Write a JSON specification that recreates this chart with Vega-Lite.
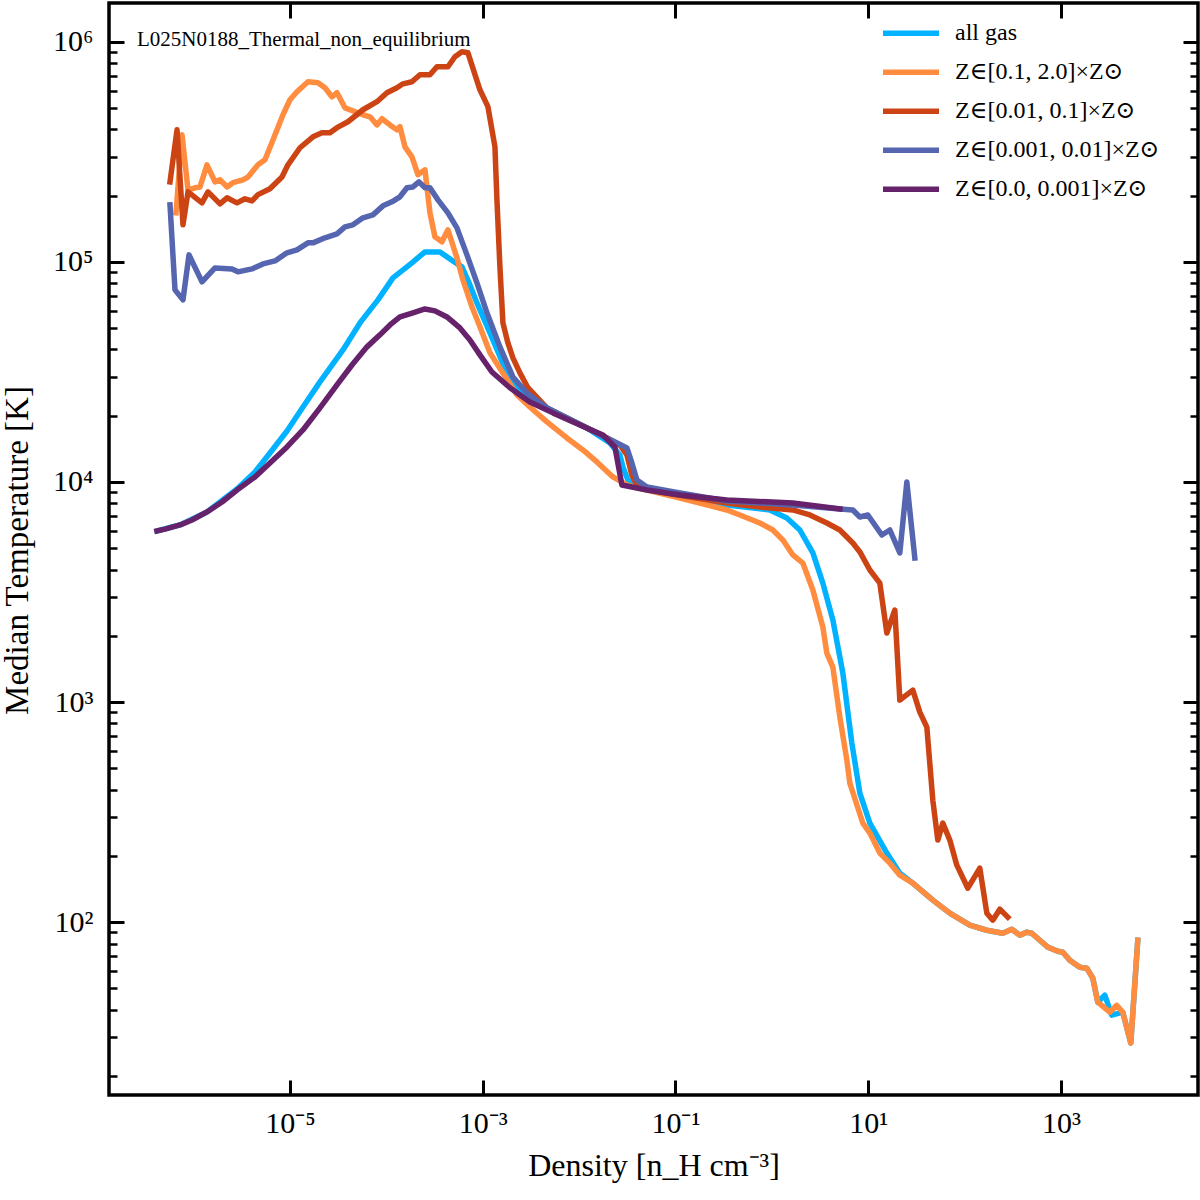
{
  "$schema": "https://vega.github.io/schema/vega-lite/v6.json",
  "width": 1089,
  "height": 1092,
  "autosize": "none",
  "padding": {"left": 109, "top": 3, "right": 2, "bottom": 105},
  "background": "white",
  "config": {
    "font": "Liberation Serif",
    "view": {"stroke": "black", "strokeWidth": 3.5}
  },
  "title": {
    "text": "L025N0188_Thermal_non_equilibrium",
    "anchor": "start",
    "frame": "group",
    "orient": "top",
    "offset": 0,
    "dx": 28,
    "dy": 65,
    "baseline": "alphabetic",
    "font": "Liberation Serif",
    "fontSize": 21,
    "fontWeight": "normal",
    "color": "black"
  },
  "datasets": {
    "curves": [
      {"series": "all gas", "density": 4.17e-7, "temperature": 5990},
      {"series": "all gas", "density": 7.23e-7, "temperature": 6380},
      {"series": "all gas", "density": 1.377e-6, "temperature": 7310},
      {"series": "all gas", "density": 2.82e-6, "temperature": 9290},
      {"series": "all gas", "density": 4.335e-6, "temperature": 11100},
      {"series": "all gas", "density": 6.2e-6, "temperature": 13550},
      {"series": "all gas", "density": 9.31e-6, "temperature": 17050},
      {"series": "all gas", "density": 1.364e-5, "temperature": 21900},
      {"series": "all gas", "density": 2.048e-5, "temperature": 28500},
      {"series": "all gas", "density": 3.547e-5, "temperature": 39800},
      {"series": "all gas", "density": 5.322e-5, "temperature": 52800},
      {"series": "all gas", "density": 8.18e-5, "temperature": 67200},
      {"series": "all gas", "density": 1.171e-4, "temperature": 84600},
      {"series": "all gas", "density": 1.843e-4, "temperature": 99000},
      {"series": "all gas", "density": 2.515e-4, "temperature": 111000},
      {"series": "all gas", "density": 3.597e-4, "temperature": 111000},
      {"series": "all gas", "density": 4.909e-4, "temperature": 101000},
      {"series": "all gas", "density": 6.084e-4, "temperature": 94900},
      {"series": "all gas", "density": 7.365e-4, "temperature": 78600},
      {"series": "all gas", "density": 8.705e-4, "temperature": 65100},
      {"series": "all gas", "density": 1.188e-3, "temperature": 47600},
      {"series": "all gas", "density": 1.782e-3, "temperature": 31300},
      {"series": "all gas", "density": 2.612e-3, "temperature": 25400},
      {"series": "all gas", "density": 4.634e-3, "temperature": 21700},
      {"series": "all gas", "density": 7.47e-3, "temperature": 19540},
      {"series": "all gas", "density": 1.205e-2, "temperature": 17600},
      {"series": "all gas", "density": 2.087e-2, "temperature": 15040},
      {"series": "all gas", "density": 2.65e-2, "temperature": 13270},
      {"series": "all gas", "density": 2.848e-2, "temperature": 11700},
      {"series": "all gas", "density": 3.208e-2, "temperature": 10210},
      {"series": "all gas", "density": 3.978e-2, "temperature": 9690},
      {"series": "all gas", "density": 6.89e-2, "temperature": 9010},
      {"series": "all gas", "density": 0.3414, "temperature": 7860},
      {"series": "all gas", "density": 0.9535, "temperature": 7460},
      {"series": "all gas", "density": 1.431, "temperature": 6860},
      {"series": "all gas", "density": 1.952, "temperature": 6050},
      {"series": "all gas", "density": 2.663, "temperature": 4760},
      {"series": "all gas", "density": 3.381, "temperature": 3470},
      {"series": "all gas", "density": 4.294, "temperature": 2360},
      {"series": "all gas", "density": 5.451, "temperature": 1355},
      {"series": "all gas", "density": 6.76, "temperature": 651},
      {"series": "all gas", "density": 8.184, "temperature": 386},
      {"series": "all gas", "density": 10.39, "temperature": 282},
      {"series": "all gas", "density": 15.6, "temperature": 206},
      {"series": "all gas", "density": 21.27, "temperature": 167},
      {"series": "all gas", "density": 29.01, "temperature": 150.4},
      {"series": "all gas", "density": 46.79, "temperature": 125.9},
      {"series": "all gas", "density": 70.23, "temperature": 109.9},
      {"series": "all gas", "density": 113.2, "temperature": 96.9},
      {"series": "all gas", "density": 170, "temperature": 91.9},
      {"series": "all gas", "density": 249, "temperature": 89.1},
      {"series": "all gas", "density": 308.7, "temperature": 92.9},
      {"series": "all gas", "density": 373.8, "temperature": 87.3},
      {"series": "all gas", "density": 441.9, "temperature": 90.1},
      {"series": "all gas", "density": 498.1, "temperature": 89.1},
      {"series": "all gas", "density": 602.8, "temperature": 82.8},
      {"series": "all gas", "density": 729.6, "temperature": 77.0},
      {"series": "all gas", "density": 926.4, "temperature": 73.8},
      {"series": "all gas", "density": 1044, "temperature": 73.0},
      {"series": "all gas", "density": 1234, "temperature": 67.2},
      {"series": "all gas", "density": 1567, "temperature": 62.4},
      {"series": "all gas", "density": 1852, "temperature": 61.8},
      {"series": "all gas", "density": 2138, "temperature": 55.7},
      {"series": "all gas", "density": 2408, "temperature": 43.3},
      {"series": "all gas", "density": 2847, "temperature": 46.6},
      {"series": "all gas", "density": 3365, "temperature": 37.8},
      {"series": "all gas", "density": 4377, "temperature": 39.0},
      {"series": "all gas", "density": 5298, "temperature": 28.2},
      {"series": "all gas", "density": 6261, "temperature": 82.8},

      {"series": "Z∈[0.1, 2.0]×Z⊙", "density": 6.57e-7, "temperature": 167000},
      {"series": "Z∈[0.1, 2.0]×Z⊙", "density": 7.58e-7, "temperature": 378000},
      {"series": "Z∈[0.1, 2.0]×Z⊙", "density": 8.75e-7, "temperature": 212000},
      {"series": "Z∈[0.1, 2.0]×Z⊙", "density": 1.034e-6, "temperature": 217000},
      {"series": "Z∈[0.1, 2.0]×Z⊙", "density": 1.165e-6, "temperature": 219000},
      {"series": "Z∈[0.1, 2.0]×Z⊙", "density": 1.377e-6, "temperature": 276000},
      {"series": "Z∈[0.1, 2.0]×Z⊙", "density": 1.667e-6, "temperature": 231000},
      {"series": "Z∈[0.1, 2.0]×Z⊙", "density": 1.879e-6, "temperature": 236000},
      {"series": "Z∈[0.1, 2.0]×Z⊙", "density": 2.221e-6, "temperature": 219000},
      {"series": "Z∈[0.1, 2.0]×Z⊙", "density": 2.563e-6, "temperature": 229000},
      {"series": "Z∈[0.1, 2.0]×Z⊙", "density": 3.254e-6, "temperature": 236000},
      {"series": "Z∈[0.1, 2.0]×Z⊙", "density": 3.667e-6, "temperature": 243000},
      {"series": "Z∈[0.1, 2.0]×Z⊙", "density": 4.656e-6, "temperature": 276000},
      {"series": "Z∈[0.1, 2.0]×Z⊙", "density": 5.504e-6, "temperature": 291000},
      {"series": "Z∈[0.1, 2.0]×Z⊙", "density": 6.66e-6, "temperature": 358000},
      {"series": "Z∈[0.1, 2.0]×Z⊙", "density": 8.46e-6, "temperature": 466000},
      {"series": "Z∈[0.1, 2.0]×Z⊙", "density": 1.0e-5, "temperature": 545000},
      {"series": "Z∈[0.1, 2.0]×Z⊙", "density": 1.182e-5, "temperature": 593000},
      {"series": "Z∈[0.1, 2.0]×Z⊙", "density": 1.537e-5, "temperature": 658000},
      {"series": "Z∈[0.1, 2.0]×Z⊙", "density": 1.952e-5, "temperature": 651000},
      {"series": "Z∈[0.1, 2.0]×Z⊙", "density": 2.307e-5, "temperature": 618000},
      {"series": "Z∈[0.1, 2.0]×Z⊙", "density": 2.727e-5, "temperature": 562000},
      {"series": "Z∈[0.1, 2.0]×Z⊙", "density": 3.073e-5, "temperature": 587000},
      {"series": "Z∈[0.1, 2.0]×Z⊙", "density": 3.72e-5, "temperature": 501000},
      {"series": "Z∈[0.1, 2.0]×Z⊙", "density": 5.719e-5, "temperature": 466000},
      {"series": "Z∈[0.1, 2.0]×Z⊙", "density": 6.76e-5, "temperature": 456000},
      {"series": "Z∈[0.1, 2.0]×Z⊙", "density": 7.99e-5, "temperature": 419000},
      {"series": "Z∈[0.1, 2.0]×Z⊙", "density": 9.0e-5, "temperature": 447000},
      {"series": "Z∈[0.1, 2.0]×Z⊙", "density": 1.09e-4, "temperature": 419000},
      {"series": "Z∈[0.1, 2.0]×Z⊙", "density": 1.288e-4, "temperature": 398000},
      {"series": "Z∈[0.1, 2.0]×Z⊙", "density": 1.384e-4, "temperature": 411000},
      {"series": "Z∈[0.1, 2.0]×Z⊙", "density": 1.56e-4, "temperature": 333000},
      {"series": "Z∈[0.1, 2.0]×Z⊙", "density": 1.843e-4, "temperature": 300000},
      {"series": "Z∈[0.1, 2.0]×Z⊙", "density": 2.127e-4, "temperature": 249000},
      {"series": "Z∈[0.1, 2.0]×Z⊙", "density": 2.515e-4, "temperature": 262000},
      {"series": "Z∈[0.1, 2.0]×Z⊙", "density": 2.834e-4, "temperature": 167000},
      {"series": "Z∈[0.1, 2.0]×Z⊙", "density": 3.192e-4, "temperature": 129900},
      {"series": "Z∈[0.1, 2.0]×Z⊙", "density": 3.775e-4, "temperature": 123300},
      {"series": "Z∈[0.1, 2.0]×Z⊙", "density": 4.355e-4, "temperature": 139800},
      {"series": "Z∈[0.1, 2.0]×Z⊙", "density": 5.4e-4, "temperature": 104300},
      {"series": "Z∈[0.1, 2.0]×Z⊙", "density": 6.232e-4, "temperature": 82800},
      {"series": "Z∈[0.1, 2.0]×Z⊙", "density": 7.727e-4, "temperature": 62500},
      {"series": "Z∈[0.1, 2.0]×Z⊙", "density": 9.35e-4, "temperature": 50700},
      {"series": "Z∈[0.1, 2.0]×Z⊙", "density": 1.188e-3, "temperature": 38600},
      {"series": "Z∈[0.1, 2.0]×Z⊙", "density": 1.62e-3, "temperature": 31300},
      {"series": "Z∈[0.1, 2.0]×Z⊙", "density": 2.263e-3, "temperature": 24900},
      {"series": "Z∈[0.1, 2.0]×Z⊙", "density": 3.087e-3, "temperature": 21900},
      {"series": "Z∈[0.1, 2.0]×Z⊙", "density": 4.634e-3, "temperature": 18740},
      {"series": "Z∈[0.1, 2.0]×Z⊙", "density": 7.47e-3, "temperature": 15850},
      {"series": "Z∈[0.1, 2.0]×Z⊙", "density": 1.095e-2, "temperature": 13980},
      {"series": "Z∈[0.1, 2.0]×Z⊙", "density": 1.53e-2, "temperature": 12330},
      {"series": "Z∈[0.1, 2.0]×Z⊙", "density": 2.242e-2, "temperature": 10540},
      {"series": "Z∈[0.1, 2.0]×Z⊙", "density": 3.133e-2, "temperature": 9690},
      {"series": "Z∈[0.1, 2.0]×Z⊙", "density": 5.05e-2, "temperature": 9190},
      {"series": "Z∈[0.1, 2.0]×Z⊙", "density": 0.1111, "temperature": 8460},
      {"series": "Z∈[0.1, 2.0]×Z⊙", "density": 0.3414, "temperature": 7460},
      {"series": "Z∈[0.1, 2.0]×Z⊙", "density": 0.4656, "temperature": 7080},
      {"series": "Z∈[0.1, 2.0]×Z⊙", "density": 0.7506, "temperature": 6510},
      {"series": "Z∈[0.1, 2.0]×Z⊙", "density": 1.024, "temperature": 6050},
      {"series": "Z∈[0.1, 2.0]×Z⊙", "density": 1.301, "temperature": 5450},
      {"series": "Z∈[0.1, 2.0]×Z⊙", "density": 1.651, "temperature": 4660},
      {"series": "Z∈[0.1, 2.0]×Z⊙", "density": 2.097, "temperature": 4280},
      {"series": "Z∈[0.1, 2.0]×Z⊙", "density": 2.663, "temperature": 3230},
      {"series": "Z∈[0.1, 2.0]×Z⊙", "density": 3.381, "temperature": 2190},
      {"series": "Z∈[0.1, 2.0]×Z⊙", "density": 3.72, "temperature": 1670},
      {"series": "Z∈[0.1, 2.0]×Z⊙", "density": 4.294, "temperature": 1442},
      {"series": "Z∈[0.1, 2.0]×Z⊙", "density": 5.075, "temperature": 855},
      {"series": "Z∈[0.1, 2.0]×Z⊙", "density": 5.998, "temperature": 545},
      {"series": "Z∈[0.1, 2.0]×Z⊙", "density": 6.443, "temperature": 428},
      {"series": "Z∈[0.1, 2.0]×Z⊙", "density": 8.79, "temperature": 282},
      {"series": "Z∈[0.1, 2.0]×Z⊙", "density": 10.39, "temperature": 254},
      {"series": "Z∈[0.1, 2.0]×Z⊙", "density": 13.19, "temperature": 206},
      {"series": "Z∈[0.1, 2.0]×Z⊙", "density": 16.76, "temperature": 185.4},
      {"series": "Z∈[0.1, 2.0]×Z⊙", "density": 21.27, "temperature": 163.5},
      {"series": "Z∈[0.1, 2.0]×Z⊙", "density": 29.01, "temperature": 150.4},
      {"series": "Z∈[0.1, 2.0]×Z⊙", "density": 46.79, "temperature": 125.9},
      {"series": "Z∈[0.1, 2.0]×Z⊙", "density": 70.23, "temperature": 109.9},
      {"series": "Z∈[0.1, 2.0]×Z⊙", "density": 113.2, "temperature": 96.9},
      {"series": "Z∈[0.1, 2.0]×Z⊙", "density": 170, "temperature": 91.9},
      {"series": "Z∈[0.1, 2.0]×Z⊙", "density": 249, "temperature": 89.1},
      {"series": "Z∈[0.1, 2.0]×Z⊙", "density": 308.7, "temperature": 92.9},
      {"series": "Z∈[0.1, 2.0]×Z⊙", "density": 373.8, "temperature": 87.3},
      {"series": "Z∈[0.1, 2.0]×Z⊙", "density": 441.9, "temperature": 90.1},
      {"series": "Z∈[0.1, 2.0]×Z⊙", "density": 498.1, "temperature": 89.1},
      {"series": "Z∈[0.1, 2.0]×Z⊙", "density": 602.8, "temperature": 82.8},
      {"series": "Z∈[0.1, 2.0]×Z⊙", "density": 729.6, "temperature": 77.0},
      {"series": "Z∈[0.1, 2.0]×Z⊙", "density": 926.4, "temperature": 73.8},
      {"series": "Z∈[0.1, 2.0]×Z⊙", "density": 1044, "temperature": 73.0},
      {"series": "Z∈[0.1, 2.0]×Z⊙", "density": 1234, "temperature": 67.2},
      {"series": "Z∈[0.1, 2.0]×Z⊙", "density": 1567, "temperature": 62.4},
      {"series": "Z∈[0.1, 2.0]×Z⊙", "density": 1852, "temperature": 61.8},
      {"series": "Z∈[0.1, 2.0]×Z⊙", "density": 2138, "temperature": 55.7},
      {"series": "Z∈[0.1, 2.0]×Z⊙", "density": 2408, "temperature": 43.3},
      {"series": "Z∈[0.1, 2.0]×Z⊙", "density": 3208, "temperature": 39.0},
      {"series": "Z∈[0.1, 2.0]×Z⊙", "density": 3792, "temperature": 41.9},
      {"series": "Z∈[0.1, 2.0]×Z⊙", "density": 4377, "temperature": 39.0},
      {"series": "Z∈[0.1, 2.0]×Z⊙", "density": 5298, "temperature": 28.2},
      {"series": "Z∈[0.1, 2.0]×Z⊙", "density": 6261, "temperature": 82.8},

      {"series": "Z∈[0.01, 0.1]×Z⊙", "density": 5.69e-7, "temperature": 231000},
      {"series": "Z∈[0.01, 0.1]×Z⊙", "density": 6.73e-7, "temperature": 398000},
      {"series": "Z∈[0.01, 0.1]×Z⊙", "density": 7.76e-7, "temperature": 147300},
      {"series": "Z∈[0.01, 0.1]×Z⊙", "density": 8.75e-7, "temperature": 208000},
      {"series": "Z∈[0.01, 0.1]×Z⊙", "density": 1.222e-6, "temperature": 185400},
      {"series": "Z∈[0.01, 0.1]×Z⊙", "density": 1.411e-6, "temperature": 208000},
      {"series": "Z∈[0.01, 0.1]×Z⊙", "density": 1.879e-6, "temperature": 183500},
      {"series": "Z∈[0.01, 0.1]×Z⊙", "density": 2.221e-6, "temperature": 195400},
      {"series": "Z∈[0.01, 0.1]×Z⊙", "density": 2.82e-6, "temperature": 185400},
      {"series": "Z∈[0.01, 0.1]×Z⊙", "density": 3.414e-6, "temperature": 193400},
      {"series": "Z∈[0.01, 0.1]×Z⊙", "density": 4.035e-6, "temperature": 189300},
      {"series": "Z∈[0.01, 0.1]×Z⊙", "density": 4.656e-6, "temperature": 202000},
      {"series": "Z∈[0.01, 0.1]×Z⊙", "density": 6.2e-6, "temperature": 215000},
      {"series": "Z∈[0.01, 0.1]×Z⊙", "density": 8.26e-6, "temperature": 243000},
      {"series": "Z∈[0.01, 0.1]×Z⊙", "density": 9.53e-6, "temperature": 276000},
      {"series": "Z∈[0.01, 0.1]×Z⊙", "density": 1.27e-5, "temperature": 330000},
      {"series": "Z∈[0.01, 0.1]×Z⊙", "density": 1.732e-5, "temperature": 370000},
      {"series": "Z∈[0.01, 0.1]×Z⊙", "density": 2.148e-5, "temperature": 386000},
      {"series": "Z∈[0.01, 0.1]×Z⊙", "density": 2.6e-5, "temperature": 386000},
      {"series": "Z∈[0.01, 0.1]×Z⊙", "density": 3.073e-5, "temperature": 407000},
      {"series": "Z∈[0.01, 0.1]×Z⊙", "density": 3.996e-5, "temperature": 433000},
      {"series": "Z∈[0.01, 0.1]×Z⊙", "density": 5.719e-5, "temperature": 491000},
      {"series": "Z∈[0.01, 0.1]×Z⊙", "density": 7.99e-5, "temperature": 534000},
      {"series": "Z∈[0.01, 0.1]×Z⊙", "density": 1.014e-4, "temperature": 587000},
      {"series": "Z∈[0.01, 0.1]×Z⊙", "density": 1.288e-4, "temperature": 618000},
      {"series": "Z∈[0.01, 0.1]×Z⊙", "density": 1.487e-4, "temperature": 644000},
      {"series": "Z∈[0.01, 0.1]×Z⊙", "density": 1.843e-4, "temperature": 658000},
      {"series": "Z∈[0.01, 0.1]×Z⊙", "density": 2.232e-4, "temperature": 708000},
      {"series": "Z∈[0.01, 0.1]×Z⊙", "density": 2.834e-4, "temperature": 708000},
      {"series": "Z∈[0.01, 0.1]×Z⊙", "density": 3.349e-4, "temperature": 770000},
      {"series": "Z∈[0.01, 0.1]×Z⊙", "density": 4.355e-4, "temperature": 770000},
      {"series": "Z∈[0.01, 0.1]×Z⊙", "density": 5.148e-4, "temperature": 855000},
      {"series": "Z∈[0.01, 0.1]×Z⊙", "density": 6.084e-4, "temperature": 901000},
      {"series": "Z∈[0.01, 0.1]×Z⊙", "density": 7.023e-4, "temperature": 891000},
      {"series": "Z∈[0.01, 0.1]×Z⊙", "density": 9.35e-4, "temperature": 605000},
      {"series": "Z∈[0.01, 0.1]×Z⊙", "density": 1.132e-3, "temperature": 507000},
      {"series": "Z∈[0.01, 0.1]×Z⊙", "density": 1.339e-3, "temperature": 333000},
      {"series": "Z∈[0.01, 0.1]×Z⊙", "density": 1.404e-3, "temperature": 191300},
      {"series": "Z∈[0.01, 0.1]×Z⊙", "density": 1.508e-3, "temperature": 94900},
      {"series": "Z∈[0.01, 0.1]×Z⊙", "density": 1.62e-3, "temperature": 52800},
      {"series": "Z∈[0.01, 0.1]×Z⊙", "density": 1.825e-3, "temperature": 42800},
      {"series": "Z∈[0.01, 0.1]×Z⊙", "density": 2.057e-3, "temperature": 36600},
      {"series": "Z∈[0.01, 0.1]×Z⊙", "density": 2.431e-3, "temperature": 31300},
      {"series": "Z∈[0.01, 0.1]×Z⊙", "density": 2.943e-3, "temperature": 26800},
      {"series": "Z∈[0.01, 0.1]×Z⊙", "density": 4.634e-3, "temperature": 21700},
      {"series": "Z∈[0.01, 0.1]×Z⊙", "density": 7.47e-3, "temperature": 19540},
      {"series": "Z∈[0.01, 0.1]×Z⊙", "density": 1.205e-2, "temperature": 17600},
      {"series": "Z∈[0.01, 0.1]×Z⊙", "density": 1.943e-2, "temperature": 15850},
      {"series": "Z∈[0.01, 0.1]×Z⊙", "density": 2.65e-2, "temperature": 14730},
      {"series": "Z∈[0.01, 0.1]×Z⊙", "density": 3.133e-2, "temperature": 13270},
      {"series": "Z∈[0.01, 0.1]×Z⊙", "density": 3.529e-2, "temperature": 10760},
      {"series": "Z∈[0.01, 0.1]×Z⊙", "density": 3.978e-2, "temperature": 9690},
      {"series": "Z∈[0.01, 0.1]×Z⊙", "density": 6.89e-2, "temperature": 9010},
      {"series": "Z∈[0.01, 0.1]×Z⊙", "density": 0.3414, "temperature": 8030},
      {"series": "Z∈[0.01, 0.1]×Z⊙", "density": 0.7506, "temperature": 7700},
      {"series": "Z∈[0.01, 0.1]×Z⊙", "density": 1.651, "temperature": 7460},
      {"series": "Z∈[0.01, 0.1]×Z⊙", "density": 2.479, "temperature": 7080},
      {"series": "Z∈[0.01, 0.1]×Z⊙", "density": 3.72, "temperature": 6510},
      {"series": "Z∈[0.01, 0.1]×Z⊙", "density": 5.075, "temperature": 6050},
      {"series": "Z∈[0.01, 0.1]×Z⊙", "density": 6.923, "temperature": 5280},
      {"series": "Z∈[0.01, 0.1]×Z⊙", "density": 8.184, "temperature": 4810},
      {"series": "Z∈[0.01, 0.1]×Z⊙", "density": 10.39, "temperature": 3980},
      {"series": "Z∈[0.01, 0.1]×Z⊙", "density": 13.19, "temperature": 3470},
      {"series": "Z∈[0.01, 0.1]×Z⊙", "density": 15.6, "temperature": 2060},
      {"series": "Z∈[0.01, 0.1]×Z⊙", "density": 18.88, "temperature": 2620},
      {"series": "Z∈[0.01, 0.1]×Z⊙", "density": 21.27, "temperature": 1021},
      {"series": "Z∈[0.01, 0.1]×Z⊙", "density": 29.01, "temperature": 1134},
      {"series": "Z∈[0.01, 0.1]×Z⊙", "density": 34.3, "temperature": 901},
      {"series": "Z∈[0.01, 0.1]×Z⊙", "density": 40.54, "temperature": 770},
      {"series": "Z∈[0.01, 0.1]×Z⊙", "density": 46.79, "temperature": 358},
      {"series": "Z∈[0.01, 0.1]×Z⊙", "density": 52.72, "temperature": 236},
      {"series": "Z∈[0.01, 0.1]×Z⊙", "density": 59.4, "temperature": 282},
      {"series": "Z∈[0.01, 0.1]×Z⊙", "density": 70.23, "temperature": 236},
      {"series": "Z∈[0.01, 0.1]×Z⊙", "density": 83.0, "temperature": 181.6},
      {"series": "Z∈[0.01, 0.1]×Z⊙", "density": 108, "temperature": 142.7},
      {"series": "Z∈[0.01, 0.1]×Z⊙", "density": 143.8, "temperature": 176.0},
      {"series": "Z∈[0.01, 0.1]×Z⊙", "density": 170, "temperature": 109.9},
      {"series": "Z∈[0.01, 0.1]×Z⊙", "density": 196.1, "temperature": 102.1},
      {"series": "Z∈[0.01, 0.1]×Z⊙", "density": 231.8, "temperature": 114.6},
      {"series": "Z∈[0.01, 0.1]×Z⊙", "density": 280.6, "temperature": 105.4},

      {"series": "Z∈[0.001, 0.01]×Z⊙", "density": 5.69e-7, "temperature": 181600},
      {"series": "Z∈[0.001, 0.01]×Z⊙", "density": 6.41e-7, "temperature": 74600},
      {"series": "Z∈[0.001, 0.01]×Z⊙", "density": 7.76e-7, "temperature": 67200},
      {"series": "Z∈[0.001, 0.01]×Z⊙", "density": 8.96e-7, "temperature": 107600},
      {"series": "Z∈[0.001, 0.01]×Z⊙", "density": 1.222e-6, "temperature": 81100},
      {"series": "Z∈[0.001, 0.01]×Z⊙", "density": 1.667e-6, "temperature": 93900},
      {"series": "Z∈[0.001, 0.01]×Z⊙", "density": 2.502e-6, "temperature": 92900},
      {"series": "Z∈[0.001, 0.01]×Z⊙", "density": 2.888e-6, "temperature": 90100},
      {"series": "Z∈[0.001, 0.01]×Z⊙", "density": 4.035e-6, "temperature": 92900},
      {"series": "Z∈[0.001, 0.01]×Z⊙", "density": 5.246e-6, "temperature": 97900},
      {"series": "Z∈[0.001, 0.01]×Z⊙", "density": 6.99e-6, "temperature": 101000},
      {"series": "Z∈[0.001, 0.01]×Z⊙", "density": 9.31e-6, "temperature": 109900},
      {"series": "Z∈[0.001, 0.01]×Z⊙", "density": 1.182e-5, "temperature": 113400},
      {"series": "Z∈[0.001, 0.01]×Z⊙", "density": 1.537e-5, "temperature": 122000},
      {"series": "Z∈[0.001, 0.01]×Z⊙", "density": 1.732e-5, "temperature": 122000},
      {"series": "Z∈[0.001, 0.01]×Z⊙", "density": 2.307e-5, "temperature": 128600},
      {"series": "Z∈[0.001, 0.01]×Z⊙", "density": 3.073e-5, "temperature": 134100},
      {"series": "Z∈[0.001, 0.01]×Z⊙", "density": 3.72e-5, "temperature": 144200},
      {"series": "Z∈[0.001, 0.01]×Z⊙", "density": 4.504e-5, "temperature": 147300},
      {"series": "Z∈[0.001, 0.01]×Z⊙", "density": 5.719e-5, "temperature": 158500},
      {"series": "Z∈[0.001, 0.01]×Z⊙", "density": 7.261e-5, "temperature": 163500},
      {"series": "Z∈[0.001, 0.01]×Z⊙", "density": 9.22e-5, "temperature": 179700},
      {"series": "Z∈[0.001, 0.01]×Z⊙", "density": 1.143e-4, "temperature": 187400},
      {"series": "Z∈[0.001, 0.01]×Z⊙", "density": 1.384e-4, "temperature": 197500},
      {"series": "Z∈[0.001, 0.01]×Z⊙", "density": 1.636e-4, "temperature": 217000},
      {"series": "Z∈[0.001, 0.01]×Z⊙", "density": 1.888e-4, "temperature": 219000},
      {"series": "Z∈[0.001, 0.01]×Z⊙", "density": 2.179e-4, "temperature": 231000},
      {"series": "Z∈[0.001, 0.01]×Z⊙", "density": 2.515e-4, "temperature": 217000},
      {"series": "Z∈[0.001, 0.01]×Z⊙", "density": 2.834e-4, "temperature": 217000},
      {"series": "Z∈[0.001, 0.01]×Z⊙", "density": 3.43e-4, "temperature": 191300},
      {"series": "Z∈[0.001, 0.01]×Z⊙", "density": 4.355e-4, "temperature": 167000},
      {"series": "Z∈[0.001, 0.01]×Z⊙", "density": 5.4e-4, "temperature": 142700},
      {"series": "Z∈[0.001, 0.01]×Z⊙", "density": 6.857e-4, "temperature": 107600},
      {"series": "Z∈[0.001, 0.01]×Z⊙", "density": 8.705e-4, "temperature": 80300},
      {"series": "Z∈[0.001, 0.01]×Z⊙", "density": 1.106e-3, "temperature": 58700},
      {"series": "Z∈[0.001, 0.01]×Z⊙", "density": 1.508e-3, "temperature": 41100},
      {"series": "Z∈[0.001, 0.01]×Z⊙", "density": 2.057e-3, "temperature": 30000},
      {"series": "Z∈[0.001, 0.01]×Z⊙", "density": 2.873e-3, "temperature": 25400},
      {"series": "Z∈[0.001, 0.01]×Z⊙", "density": 4.634e-3, "temperature": 21700},
      {"series": "Z∈[0.001, 0.01]×Z⊙", "density": 7.47e-3, "temperature": 19540},
      {"series": "Z∈[0.001, 0.01]×Z⊙", "density": 1.205e-2, "temperature": 17600},
      {"series": "Z∈[0.001, 0.01]×Z⊙", "density": 1.943e-2, "temperature": 15850},
      {"series": "Z∈[0.001, 0.01]×Z⊙", "density": 3.133e-2, "temperature": 14270},
      {"series": "Z∈[0.001, 0.01]×Z⊙", "density": 3.529e-2, "temperature": 12200},
      {"series": "Z∈[0.001, 0.01]×Z⊙", "density": 3.978e-2, "temperature": 10210},
      {"series": "Z∈[0.001, 0.01]×Z⊙", "density": 5.05e-2, "temperature": 9490},
      {"series": "Z∈[0.001, 0.01]×Z⊙", "density": 0.1111, "temperature": 8910},
      {"series": "Z∈[0.001, 0.01]×Z⊙", "density": 0.3414, "temperature": 8200},
      {"series": "Z∈[0.001, 0.01]×Z⊙", "density": 1.651, "temperature": 7860},
      {"series": "Z∈[0.001, 0.01]×Z⊙", "density": 5.075, "temperature": 7540},
      {"series": "Z∈[0.001, 0.01]×Z⊙", "density": 6.923, "temperature": 7460},
      {"series": "Z∈[0.001, 0.01]×Z⊙", "density": 8.184, "temperature": 6930},
      {"series": "Z∈[0.001, 0.01]×Z⊙", "density": 9.91, "temperature": 7080},
      {"series": "Z∈[0.001, 0.01]×Z⊙", "density": 13.84, "temperature": 5740},
      {"series": "Z∈[0.001, 0.01]×Z⊙", "density": 16.76, "temperature": 6050},
      {"series": "Z∈[0.001, 0.01]×Z⊙", "density": 21.27, "temperature": 4760},
      {"series": "Z∈[0.001, 0.01]×Z⊙", "density": 25.15, "temperature": 10000},
      {"series": "Z∈[0.001, 0.01]×Z⊙", "density": 30.43, "temperature": 4510},

      {"series": "Z∈[0.0, 0.001]×Z⊙", "density": 4.17e-7, "temperature": 5990},
      {"series": "Z∈[0.0, 0.001]×Z⊙", "density": 5.05e-7, "temperature": 6110},
      {"series": "Z∈[0.0, 0.001]×Z⊙", "density": 7.23e-7, "temperature": 6380},
      {"series": "Z∈[0.0, 0.001]×Z⊙", "density": 9.63e-7, "temperature": 6720},
      {"series": "Z∈[0.0, 0.001]×Z⊙", "density": 1.377e-6, "temperature": 7310},
      {"series": "Z∈[0.0, 0.001]×Z⊙", "density": 1.971e-6, "temperature": 8110},
      {"series": "Z∈[0.0, 0.001]×Z⊙", "density": 2.82e-6, "temperature": 9190},
      {"series": "Z∈[0.0, 0.001]×Z⊙", "density": 4.335e-6, "temperature": 10540},
      {"series": "Z∈[0.0, 0.001]×Z⊙", "density": 6.2e-6, "temperature": 12200},
      {"series": "Z∈[0.0, 0.001]×Z⊙", "density": 9.31e-6, "temperature": 14420},
      {"series": "Z∈[0.0, 0.001]×Z⊙", "density": 1.364e-5, "temperature": 17230},
      {"series": "Z∈[0.0, 0.001]×Z⊙", "density": 2.048e-5, "temperature": 21700},
      {"series": "Z∈[0.0, 0.001]×Z⊙", "density": 3.073e-5, "temperature": 27600},
      {"series": "Z∈[0.0, 0.001]×Z⊙", "density": 4.398e-5, "temperature": 34000},
      {"series": "Z∈[0.0, 0.001]×Z⊙", "density": 6.293e-5, "temperature": 41100},
      {"series": "Z∈[0.0, 0.001]×Z⊙", "density": 8.58e-5, "temperature": 46600},
      {"series": "Z∈[0.0, 0.001]×Z⊙", "density": 1.09e-4, "temperature": 51700},
      {"series": "Z∈[0.0, 0.001]×Z⊙", "density": 1.384e-4, "temperature": 56200},
      {"series": "Z∈[0.0, 0.001]×Z⊙", "density": 1.888e-4, "temperature": 58700},
      {"series": "Z∈[0.0, 0.001]×Z⊙", "density": 2.515e-4, "temperature": 61100},
      {"series": "Z∈[0.0, 0.001]×Z⊙", "density": 3.192e-4, "temperature": 59900},
      {"series": "Z∈[0.0, 0.001]×Z⊙", "density": 4.252e-4, "temperature": 56200},
      {"series": "Z∈[0.0, 0.001]×Z⊙", "density": 5.8e-4, "temperature": 50100},
      {"series": "Z∈[0.0, 0.001]×Z⊙", "density": 7.365e-4, "temperature": 44200},
      {"series": "Z∈[0.0, 0.001]×Z⊙", "density": 9.35e-4, "temperature": 37800},
      {"series": "Z∈[0.0, 0.001]×Z⊙", "density": 1.246e-3, "temperature": 31600},
      {"series": "Z∈[0.0, 0.001]×Z⊙", "density": 1.915e-3, "temperature": 26800},
      {"series": "Z∈[0.0, 0.001]×Z⊙", "density": 3.087e-3, "temperature": 23100},
      {"series": "Z∈[0.0, 0.001]×Z⊙", "density": 5.348e-3, "temperature": 20600},
      {"series": "Z∈[0.0, 0.001]×Z⊙", "density": 1.019e-2, "temperature": 18160},
      {"series": "Z∈[0.0, 0.001]×Z⊙", "density": 1.766e-2, "temperature": 16350},
      {"series": "Z∈[0.0, 0.001]×Z⊙", "density": 2.352e-2, "temperature": 14420},
      {"series": "Z∈[0.0, 0.001]×Z⊙", "density": 2.78e-2, "temperature": 9690},
      {"series": "Z∈[0.0, 0.001]×Z⊙", "density": 5.05e-2, "temperature": 9190},
      {"series": "Z∈[0.0, 0.001]×Z⊙", "density": 0.1111, "temperature": 8730},
      {"series": "Z∈[0.0, 0.001]×Z⊙", "density": 0.3414, "temperature": 8280},
      {"series": "Z∈[0.0, 0.001]×Z⊙", "density": 1.651, "temperature": 8030},
      {"series": "Z∈[0.0, 0.001]×Z⊙", "density": 5.075, "temperature": 7540}
    ]
  },
  "data": {"name": "curves"},
  "resolve": {"axis": {"x": "independent", "y": "independent"}},
  "layer": [
    {
      "mark": {"type": "line", "strokeWidth": 5.5, "strokeCap": "square", "strokeJoin": "round", "clip": true},
      "encoding": {
        "x": {
          "field": "density",
          "type": "quantitative",
          "scale": {"type": "log", "domain": [1.325e-7, 26400], "nice": false},
          "axis": {
            "values": [1e-5, 0.001, 0.1, 10, 1000],
            "labelExpr": "datum.value < 1e-4 ? '10⁻⁵' : datum.value < 1e-2 ? '10⁻³' : datum.value < 1 ? '10⁻¹' : datum.value < 100 ? '10¹' : '10³'",
            "grid": false,
            "domain": false,
            "tickSize": -15,
            "tickWidth": 3,
            "tickColor": "black",
            "labelPadding": 28,
            "labelFontSize": 30,
            "labelColor": "black",
            "labelFlush": false,
            "labelOverlap": false,
            "title": "Density [n_H cm⁻³]",
            "titleFontSize": 32,
            "titleFontWeight": "normal",
            "titleColor": "black",
            "titleY": 80,
            "titleBaseline": "alphabetic"
          }
        },
        "y": {
          "field": "temperature",
          "type": "quantitative",
          "scale": {"type": "log", "domain": [16.4, 1500000], "nice": false},
          "axis": {
            "values": [20, 30, 40, 50, 60, 70, 80, 90, 100, 200, 300, 400, 500, 600, 700, 800, 900, 1000, 2000, 3000, 4000, 5000, 6000, 7000, 8000, 9000, 10000, 20000, 30000, 40000, 50000, 60000, 70000, 80000, 90000, 100000, 200000, 300000, 400000, 500000, 600000, 700000, 800000, 900000, 1000000],
            "labelExpr": "datum.value == 100 ? '10²' : datum.value == 1000 ? '10³' : datum.value == 10000 ? '10⁴' : datum.value == 100000 ? '10⁵' : datum.value == 1000000 ? '10⁶' : ''",
            "grid": false,
            "domain": false,
            "tickSize": {"condition": {"test": "indexof([100, 1000, 10000, 100000, 1000000], datum.value) >= 0", "value": -15}, "value": -8},
            "tickWidth": {"condition": {"test": "indexof([100, 1000, 10000, 100000, 1000000], datum.value) >= 0", "value": 3}, "value": 2.5},
            "tickColor": "black",
            "labelPadding": 31,
            "labelFontSize": 30,
            "labelColor": "black",
            "labelFlush": false,
            "labelOverlap": false,
            "title": "Median Temperature [K]",
            "titleFontSize": 33,
            "titleFontWeight": "normal",
            "titleColor": "black",
            "titleX": -82,
            "titleY": 547,
            "titleAngle": -90,
            "titleAlign": "center",
            "titleBaseline": "alphabetic"
          }
        },
        "color": {
          "field": "series",
          "type": "nominal",
          "sort": null,
          "scale": {
            "domain": ["all gas", "Z∈[0.1, 2.0]×Z⊙", "Z∈[0.01, 0.1]×Z⊙", "Z∈[0.001, 0.01]×Z⊙", "Z∈[0.0, 0.001]×Z⊙"],
            "range": ["#00B2FF", "#FF8C3F", "#CC4414", "#5565B0", "#66226A"]
          },
          "legend": {
            "title": null,
            "orient": "none",
            "legendX": 771,
            "legendY": 12,
            "direction": "vertical",
            "symbolType": "stroke",
            "symbolSize": 3136,
            "symbolStrokeWidth": 5.5,
            "labelFontSize": 24,
            "labelFont": "Liberation Serif, DejaVu Serif, serif",
            "labelColor": "black",
            "labelOffset": 13,
            "labelLimit": 400,
            "clipHeight": 36.7,
            "rowPadding": 2,
            "padding": 0
          }
        }
      }
    },
    {
      "mark": {"type": "line", "opacity": 0},
      "encoding": {
        "x": {
          "field": "density",
          "type": "quantitative",
          "scale": {"type": "log", "domain": [1.325e-7, 26400], "nice": false},
          "axis": {
            "orient": "top",
            "values": [1e-5, 0.001, 0.1, 10, 1000],
            "labels": false,
            "title": null,
            "grid": false,
            "domain": false,
            "tickSize": -15,
            "tickWidth": 3,
            "tickColor": "black"
          }
        },
        "y": {
          "field": "temperature",
          "type": "quantitative",
          "scale": {"type": "log", "domain": [16.4, 1500000], "nice": false},
          "axis": {
            "orient": "right",
            "values": [20, 30, 40, 50, 60, 70, 80, 90, 100, 200, 300, 400, 500, 600, 700, 800, 900, 1000, 2000, 3000, 4000, 5000, 6000, 7000, 8000, 9000, 10000, 20000, 30000, 40000, 50000, 60000, 70000, 80000, 90000, 100000, 200000, 300000, 400000, 500000, 600000, 700000, 800000, 900000, 1000000],
            "labels": false,
            "title": null,
            "grid": false,
            "domain": false,
            "tickSize": {"condition": {"test": "indexof([100, 1000, 10000, 100000, 1000000], datum.value) >= 0", "value": -15}, "value": -8},
            "tickWidth": {"condition": {"test": "indexof([100, 1000, 10000, 100000, 1000000], datum.value) >= 0", "value": 3}, "value": 2.5},
            "tickColor": "black"
          }
        }
      }
    }
  ]
}
